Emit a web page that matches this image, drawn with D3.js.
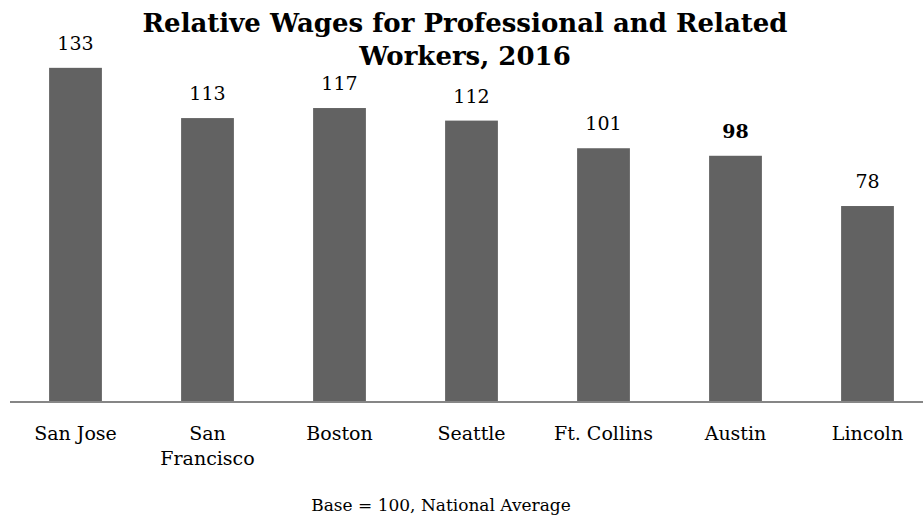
<!DOCTYPE html>
<html>
<head>
<meta charset="utf-8">
<script src="https://cdn.jsdelivr.net/npm/d3@7"></script>
<style>
  html, body { margin: 0; padding: 0; background: #fff; }
  svg { display: block; }
</style>
</head>
<body>
<svg id="chart" width="923" height="519"></svg>
<script>
const cities = ["San Jose", "San Francisco", "Boston", "Seattle", "Ft. Collins", "Austin", "Lincoln"];
const wages = [133, 113, 117, 112, 101, 98, 78];
const boldLabels = ["Austin"];
const titleLines = ["Relative Wages for Professional and Related", "Workers, 2016"];
const footnote = "Base = 100, National Average";

const FONT = "'DejaVu Serif', 'Liberation Serif', serif";
const svg = d3.select("#chart");

const x = d3.scaleBand()
  .domain(cities)
  .range([9.5, 933.5])
  .paddingInner(0.6)
  .paddingOuter(0.3);

const y = d3.scaleLinear().domain([0, 160]).range([402, 0]);

svg.selectAll("rect.bar")
  .data(cities)
  .join("rect")
  .attr("class", "bar")
  .attr("x", d => x(d))
  .attr("width", x.bandwidth())
  .attr("y", (d, i) => y(wages[i]))
  .attr("height", (d, i) => y(0) - y(wages[i]))
  .attr("fill", "#626262");

// axis line
const axis = d3.axisBottom(x).tickSize(0).tickFormat("");
const gx = svg.append("g").attr("transform", `translate(0,${y(0)})`).call(axis);
gx.select(".domain").attr("stroke", "#868686").attr("stroke-width", 2).attr("d", `M10,0H923`);

// value labels
svg.selectAll("text.val")
  .data(cities)
  .join("text")
  .attr("class", "val")
  .attr("x", d => x(d) + x.bandwidth() / 2)
  .attr("y", (d, i) => y(wages[i]) - 18)
  .attr("text-anchor", "middle")
  .style("font-family", FONT)
  .style("font-size", "19px")
  .style("font-weight", d => boldLabels.includes(d) ? "bold" : "normal")
  .attr("fill", "#000")
  .text((d, i) => wages[i]);

// category labels
svg.selectAll("text.cat")
  .data(cities)
  .join("text")
  .attr("class", "cat")
  .attr("y", 440)
  .attr("text-anchor", "middle")
  .style("font-family", FONT)
  .style("font-size", "19px")
  .attr("fill", "#000")
  .each(function(d) {
    const el = d3.select(this);
    const parts = d === "San Francisco" ? ["San", "Francisco"] : [d];
    parts.forEach((p, k) => {
      el.append("tspan")
        .attr("x", x(d) + x.bandwidth() / 2)
        .attr("dy", k === 0 ? 0 : 25)
        .style("font-family", FONT)
        .text(p);
    });
  });

// title
svg.selectAll("text.title")
  .data(titleLines)
  .join("text")
  .attr("class", "title")
  .attr("x", 465)
  .attr("y", (d, i) => 32 + i * 33)
  .attr("text-anchor", "middle")
  .style("font-family", FONT)
  .style("font-size", "26px")
  .style("font-weight", "bold")
  .attr("fill", "#000")
  .text(d => d);

// footnote
svg.append("text")
  .attr("x", 441)
  .attr("y", 511)
  .attr("text-anchor", "middle")
  .style("font-family", FONT)
  .style("font-size", "17px")
  .attr("fill", "#000")
  .text(footnote);
</script>
</body>
</html>
